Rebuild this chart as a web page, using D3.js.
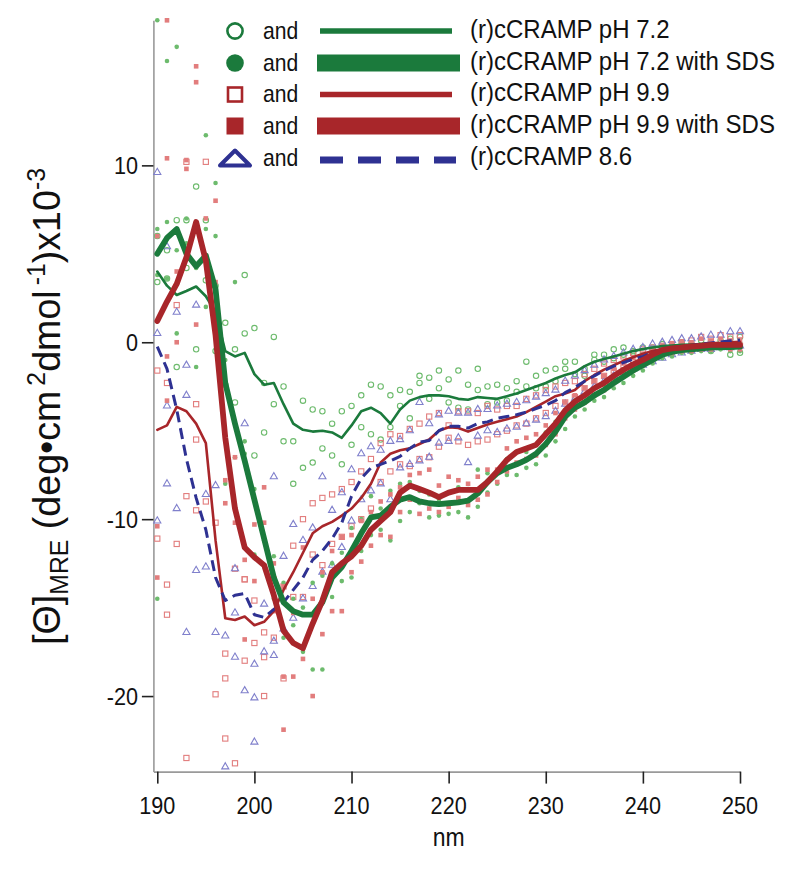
<!DOCTYPE html>
<html><head><meta charset="utf-8">
<script src="https://cdn.jsdelivr.net/npm/d3@7"></script>
<style>body{margin:0;background:#fff} svg{display:block}</style>
</head><body>
<svg id="c" width="800" height="878"></svg>
<script>
// ---------- DATA ----------
const wavelengths = [190,191,192,193,194,195,196,197,198,199,200,201,202,203,204,205,206,207,208,209,
210,211,212,213,214,215,216,217,218,219,220,221,222,223,224,225,226,227,228,229,
230,231,232,233,234,235,236,237,238,239,240,241,242,243,244,245,246,247,248,249,250];
const xTicks = [190,200,210,220,230,240,250];
const yTicks = [-20,-10,0,10];
const legendLabels = ["(r)cCRAMP pH 7.2","(r)cCRAMP pH 7.2 with SDS","(r)cCRAMP pH 9.9","(r)cCRAMP pH 9.9 with SDS","(r)cCRAMP 8.6"];

// averaged curves (x10^-3)
const line72 = [4.0,3.2,2.67,2.9,3.15,2.6,1.7,-0.5,-0.8,-0.6,
-1.8,-2.4,-2.3,-3.5,-4.6,-4.95,-5.05,-5.0,-5.1,-5.4,
-4.7,-3.9,-3.7,-4.0,-4.6,-3.8,-3.3,-3.1,-3.0,-3.0,
-3.05,-3.2,-3.25,-3.1,-3.15,-3.2,-3.05,-2.9,-2.7,-2.5,
-2.3,-2.05,-1.85,-1.7,-1.35,-1.1,-0.95,-0.8,-0.65,-0.5,
-0.38,-0.3,-0.22,-0.18,-0.15,-0.13,-0.1,-0.08,-0.06,-0.05,-0.05];
const line72sds = [5.0,5.9,6.4,5.0,4.3,4.9,3.0,-2.3,-4.6,-6.7,
-8.9,-11.1,-13.3,-14.7,-15.2,-15.4,-15.4,-14.7,-13.3,-12.7,
-11.8,-10.8,-9.9,-9.8,-9.3,-8.9,-8.75,-9.0,-9.1,-9.15,
-9.1,-9.05,-8.95,-8.55,-7.9,-7.4,-7.1,-6.9,-6.65,-6.3,
-5.75,-5.05,-4.2,-3.7,-3.4,-3.0,-2.7,-2.3,-1.95,-1.6,
-1.3,-1.0,-0.7,-0.55,-0.45,-0.4,-0.35,-0.3,-0.28,-0.27,-0.25];
const line99 = [-4.95,-4.7,-3.65,-3.9,-4.6,-5.7,-11.2,-15.6,-15.7,-15.5,
-16.0,-15.8,-15.2,-14.0,-13.0,-11.9,-10.8,-10.4,-10.15,-9.8,
-9.4,-8.8,-8.0,-6.8,-6.3,-6.1,-6.0,-5.75,-5.5,-5.0,
-4.8,-4.85,-5.05,-4.85,-4.65,-4.5,-4.35,-4.2,-3.95,-3.65,
-3.35,-3.05,-2.9,-2.7,-2.2,-1.85,-1.55,-1.3,-1.05,-0.85,
-0.65,-0.5,-0.38,-0.3,-0.22,-0.15,-0.1,-0.06,-0.03,0.0,0.03];
const line99sds = [1.2,2.3,3.3,4.8,6.8,4.6,0.4,-5.4,-9.4,-11.6,
-12.15,-12.6,-14.3,-16.3,-17.0,-17.3,-15.9,-14.6,-13.0,-12.5,
-12.1,-11.5,-10.6,-10.1,-9.6,-8.5,-8.1,-8.3,-8.5,-8.75,
-8.5,-8.35,-8.35,-8.35,-7.9,-7.3,-6.65,-6.2,-6.0,-5.8,
-5.2,-4.6,-3.85,-3.35,-3.0,-2.6,-2.3,-1.9,-1.55,-1.25,
-1.0,-0.7,-0.45,-0.35,-0.3,-0.25,-0.2,-0.15,-0.15,-0.15,-0.15];
const line86 = [-0.25,-1.5,-3.8,-6.6,-8.8,-10.6,-13.3,-14.6,-14.3,-14.2,
-15.4,-15.55,-15.1,-14.7,-14.0,-13.3,-12.3,-11.8,-11.1,-10.2,
-8.7,-7.7,-7.1,-6.9,-6.7,-6.45,-6.0,-5.65,-5.55,-5.0,
-4.75,-4.75,-4.85,-4.6,-4.5,-4.3,-4.2,-4.1,-3.95,-3.75,
-3.55,-3.3,-2.85,-2.55,-2.2,-1.9,-1.6,-1.35,-1.15,-0.95,
-0.8,-0.6,-0.45,-0.33,-0.25,-0.18,-0.1,-0.04,0.02,0.08,0.13];

// individual scans
const scan72a = [6.0,3.6,6.9,6.9,8.8,6.9,3.2,1.1,-0.4,3.8,
0.8,-2.3,0.3,-2.5,-5.6,-7.1,-3.8,-3.9,-4.6,-3.9,
-3.6,-3.0,-2.4,-2.5,-3.0,-2.7,-2.8,-1.9,-2.0,-1.6,
-2.1,-1.6,-2.4,-1.5,-2.5,-2.4,-2.6,-2.2,-1.1,-1.9,
-1.6,-1.5,-1.1,-1.1,-1.5,-0.7,-0.7,-0.4,-0.3,-0.5,
-0.3,-0.4,-0.1,-0.2,0.0,-0.1,0.1,-0.5,0.1,-0.7,-0.6];
const scan72b = [3.4,5.2,-1.4,4.2,-0.4,3.5,-0.5,-2.4,-3.4,0.5,
-6.4,-5.1,-3.5,-5.6,-8.0,-3.3,-6.8,-6.0,-6.4,-6.9,
-5.8,-4.8,-5.2,-5.5,-4.8,-3.6,-4.3,-2.3,-3.2,-2.6,
-3.4,-3.7,-3.8,-2.7,-3.5,-3.4,-3.3,-2.8,-2.5,-2.6,
-2.5,-2.2,-1.5,-1.8,-1.9,-1.0,-1.1,-0.9,-0.7,-0.6,
-0.5,-0.3,-0.4,-0.3,-0.3,-0.2,-0.3,0.0,-0.3,0.2,0.3];
const scan72sdsA = [6.4,3.6,5.2,5.6,4.2,6.4,6.0,-1.0,3.4,-5.6,
-8.3,-11.2,-12.1,-13.6,-14.5,-15.0,-13.6,-13.2,-14.4,-11.9,
-13.3,-10.0,-8.7,-9.4,-8.4,-10.1,-7.9,-9.1,-9.9,-8.9,
-9.7,-8.2,-9.9,-7.2,-8.5,-7.4,-7.5,-7.5,-6.2,-6.9,
-5.1,-5.6,-4.0,-3.3,-3.8,-2.6,-2.4,-2.0,-1.7,-1.3,
-1.0,-0.8,-0.5,-0.4,-0.3,-0.2,-0.2,-0.1,-0.1,0.0,0.0];
const scan72sdsB = [3.8,6.8,0.5,7.0,-1.4,2.0,3.2,-8.0,-6.5,-6.3,
-12.0,-12.6,-14.5,-16.7,-16.0,-17.5,-18.5,-18.5,-12.5,-13.5,
-10.5,-11.8,-10.9,-10.6,-11.2,-8.0,-9.6,-8.4,-8.6,-9.8,
-8.5,-9.6,-8.3,-9.3,-7.4,-8.0,-6.6,-6.2,-7.1,-5.8,
-6.4,-4.5,-4.9,-4.2,-3.0,-3.3,-3.1,-2.6,-2.3,-1.9,
-1.6,-1.2,-0.9,-0.8,-0.6,-0.6,-0.5,-0.5,-0.4,-0.5,-0.5];
const scan99a = [-1.6,-2.3,2.1,10.2,-3.5,10.2,-10.2,-17.6,-12.8,-13.4,
-14.6,-16.4,-13.4,-13.8,-11.5,-10.0,-9.1,-8.8,-8.6,-8.3,
-7.9,-7.3,-6.6,-5.7,-5.2,-5.3,-4.9,-4.6,-4.2,-4.0,
-4.7,-3.9,-3.9,-4.0,-3.6,-3.8,-3.6,-3.6,-3.2,-3.0,
-2.7,-2.5,-2.3,-2.2,-1.8,-1.5,-1.2,-1.0,-0.8,-0.6,
-0.4,-0.3,-0.2,-0.1,0.0,0.1,0.3,0.2,0.4,0.3,0.4];
const scan99b = [-11.1,-13.7,-11.4,-8.7,-9.5,-9.0,-19.9,-19.0,-23.8,-18.0,
-17.0,-17.8,-16.7,-19.0,-14.4,-14.4,-12.0,-12.6,-11.4,-11.0,
-10.4,-10.0,-9.4,-7.9,-7.3,-6.9,-7.0,-6.6,-6.5,-5.9,
-5.4,-5.6,-5.8,-5.6,-5.5,-5.2,-5.0,-4.7,-4.6,-4.3,
-4.0,-3.6,-3.4,-3.1,-2.6,-2.2,-1.9,-1.6,-1.3,-1.1,
-0.9,-0.7,-0.6,-0.5,-0.4,-0.4,-0.3,-0.3,-0.2,-0.2,-0.2];
const scan99sdsA = [6.0,10.4,4.0,9.8,1.0,7.0,8.0,-7.8,-10.2,-12.3,
-10.3,-8.2,-12.5,-18.9,-15.3,-17.9,-20.0,-13.0,-15.2,-15.2,
-13.0,-12.4,-11.5,-10.9,-11.0,-8.2,-7.5,-9.7,-7.2,-9.6,
-7.6,-8.8,-8.0,-7.6,-7.2,-7.2,-6.0,-5.6,-5.4,-5.2,
-4.7,-4.0,-3.4,-3.0,-2.6,-2.2,-1.9,-1.5,-1.2,-0.9,
-0.7,-0.4,-0.2,-0.1,0.0,0.0,0.2,0.1,0.2,0.1,0.1];
const scan99sdsB = [-10.4,-3.3,0.0,5.2,14.7,4.9,3.4,-9.1,-6.5,-16.8,
-13.5,-10.2,-15.2,-13.8,-18.9,-11.6,-14.5,-16.5,-11.8,-11.0,
-10.9,-10.1,-9.6,-9.0,-8.6,-9.6,-8.9,-7.4,-9.4,-8.1,
-9.3,-7.8,-9.2,-8.9,-8.6,-7.9,-7.3,-6.8,-6.6,-6.4,
-5.8,-5.2,-4.3,-3.8,-3.4,-3.0,-2.7,-2.3,-1.9,-1.6,
-1.3,-1.0,-0.7,-0.6,-0.5,-0.5,-0.4,-0.4,-0.3,-0.4,-0.4];
const scan86a = [9.6,5.4,1.7,-3.0,2.1,-12.7,-8.1,-16.6,-12.8,-4.6,
-18.2,-14.8,-7.6,-12.1,-10.3,-11.2,-10.5,-7.6,-9.5,-8.5,
-7.2,-6.3,-5.9,-6.1,-5.6,-7.1,-5.0,-3.4,-4.6,-5.7,
-3.9,-4.0,-6.8,-3.8,-5.0,-3.6,-3.5,-3.4,-3.3,-3.1,
-2.9,-2.7,-2.2,-1.9,-1.6,-1.3,-1.0,-0.8,-0.6,-0.4,
-0.3,-0.1,0.0,0.1,0.2,0.2,0.3,0.4,0.4,0.6,0.6];
const scan86b = [-10.1,-8.0,-9.4,-16.4,-12.9,-8.6,-16.4,-24.0,-17.8,-19.7,
-22.6,-17.5,-17.7,-16.2,-15.6,-14.5,-13.8,-13.0,-12.6,-11.6,
-10.1,-8.9,-8.4,-8.0,-8.9,-5.5,-6.9,-6.7,-6.5,-4.1,
-5.6,-5.4,-4.0,-5.3,-3.8,-5.1,-4.9,-4.8,-4.6,-4.4,
-4.2,-3.9,-3.5,-3.2,-2.8,-2.5,-2.2,-1.9,-1.7,-1.5,
-1.3,-1.1,-0.9,-0.7,-0.6,-0.5,-0.4,-0.4,-0.3,-0.3,-0.2];
// additional stray scan points [nm, value]
const extra72sds = [[190,18.2],[191,15.9],[192,16.7],[195,11.7],[190,-14.5],[196,9.0]];
const extra99 = [[193,-23.5],[197,-22.4],[201,-20.0],[191,-15.4],[199,-13.4],[194,-5.5]];
const extra99sds = [[191,18.2],[194,15.6],[190,-13.3],[203,-21.9],[193,10.3],[191,-0.8]];
const extra86 = [[200,-20.1],[193,-1.3],[190,0.5],[191,-3.6],[198,-15.3],[202,-16.9]];

// ---------- DRAW ----------
const svg = d3.select("#c");
const FONT = "'Liberation Sans', Arial, Helvetica, sans-serif";
const x = d3.scaleLinear().domain([189.6, 250]).range([153.4, 740]);
const y = d3.scaleLinear().domain([-24.27, 18.2]).range([771.6, 20.3]);

const C = {
  g: "#1b7a3c", r: "#a8262a", b: "#2e3192",
  gL: "#6dbb6d", rL: "#e27d7d", bL: "#8080cc"
};

function ctext(parent, tx, ty, str, size, sx, anchor) {
  return parent.append("g").attr("transform", `translate(${tx},${ty}) scale(${sx},1)`)
    .append("text").attr("font-family", FONT).attr("font-size", size)
    .attr("text-anchor", anchor || "start").attr("fill", "#111").text(str);
}

const zip = arr => wavelengths.map((w, i) => [w, arr[i]]);

// axes
const xAxis = svg.append("g").attr("transform", `translate(0,${y.range()[0]})`)
  .call(d3.axisBottom(x).tickValues(xTicks).tickSize(12).tickSizeOuter(0).tickFormat(""));
xAxis.select(".domain").attr("stroke", "#9a9a9a").attr("stroke-width", 1.6);
xAxis.selectAll(".tick line").attr("stroke", "#222").attr("stroke-width", 1.6);

const yAxis = svg.append("g").attr("transform", `translate(${x.range()[0]},0)`)
  .call(d3.axisLeft(y).tickValues(yTicks).tickSize(11.5).tickSizeOuter(0).tickFormat(""));
yAxis.select(".domain").attr("stroke", "#9a9a9a").attr("stroke-width", 1.6);
yAxis.selectAll(".tick line").attr("stroke", "#222").attr("stroke-width", 1.6);

xTicks.forEach(v => ctext(svg, x(v), 814, String(v), 24, 0.9, "middle"));
yTicks.forEach(v => ctext(svg, 138, y(v) + 9, String(v), 24, 0.9, "end"));
ctext(svg, x(220), 846, "nm", 25, 0.92, "middle");

// y label
{
  const g = svg.append("g");
  const t = g.append("text").attr("font-family", FONT).attr("font-size", 38)
    .attr("text-anchor", "middle").attr("fill", "#111");
  t.append("tspan").text("[Θ]");
  t.append("tspan").attr("font-size", 25).attr("dy", 8).text("MRE");
  t.append("tspan").attr("dy", -8).text(" (deg•cm");
  t.append("tspan").attr("font-size", 25).attr("dy", -15).attr("dx", 5).text("2");
  t.append("tspan").attr("dy", 15).text("dmol");
  t.append("tspan").attr("font-size", 25).attr("dy", -15).attr("dx", 5).text("-1");
  t.append("tspan").attr("dy", 15).text(")x10");
  t.append("tspan").attr("font-size", 25).attr("dy", -15).text("-3");
  const w = t.node().getBBox().width;
  const s = 477 / w;
  g.attr("transform", `translate(60,406.5) rotate(-90) scale(${s},1)`);
}

// scatter
const pts = svg.append("g");
function circles(data, filled) {
  pts.append("g").selectAll("circle").data(data.filter(d => d[1] != null)).join("circle")
    .attr("cx", d => x(d[0])).attr("cy", d => y(d[1]))
    .attr("r", filled ? 2.3 : 2.7)
    .attr("fill", filled ? C.gL : "none")
    .attr("stroke", filled ? "none" : C.gL).attr("stroke-width", 1.1);
}
function squares(data, filled) {
  const s = filled ? 4.6 : 5.2;
  pts.append("g").selectAll("rect").data(data).join("rect")
    .attr("x", d => x(d[0]) - s / 2).attr("y", d => y(d[1]) - s / 2)
    .attr("width", s).attr("height", s)
    .attr("fill", filled ? C.rL : "none")
    .attr("stroke", filled ? "none" : C.rL).attr("stroke-width", 1.1);
}
function triangles(data) {
  const tri = d3.symbol().type(d3.symbolTriangle).size(22);
  pts.append("g").selectAll("path").data(data).join("path")
    .attr("d", tri).attr("transform", d => `translate(${x(d[0])},${y(d[1])})`)
    .attr("fill", "none").attr("stroke", C.bL).attr("stroke-width", 1.1);
}
circles(zip(scan72a), false); circles(zip(scan72b), false);
squares(zip(scan99a), false); squares(zip(scan99b), false); squares(extra99, false);
triangles(zip(scan86a)); triangles(zip(scan86b)); triangles(extra86);
circles(zip(scan72sdsA), true); circles(zip(scan72sdsB), true); circles(extra72sds, true);
squares(zip(scan99sdsA), true); squares(zip(scan99sdsB), true); squares(extra99sds, true);

// lines
const lineGen = d3.line().x(d => x(d[0])).y(d => y(d[1]));
function drawLine(arr, color, w, dash) {
  svg.append("path").datum(zip(arr)).attr("d", lineGen)
    .attr("fill", "none").attr("stroke", color).attr("stroke-width", w)
    .attr("stroke-linejoin", "round").attr("stroke-linecap", dash ? "butt" : "round")
    .attr("stroke-dasharray", dash || null);
}
drawLine(line72, C.g, 2.6);
drawLine(line99, C.r, 2.6);
drawLine(line86, C.b, 3, "11,6");
drawLine(line72sds, C.g, 5.8);
drawLine(line99sds, C.r, 5.8);

// legend
const lg = svg.append("g");
const rowY = [31, 63, 94.5, 126, 158.5];
const textY = [37.5, 69.5, 101, 132.5, 164.5];
// symbols
lg.append("circle").attr("cx", 235).attr("cy", rowY[0]).attr("r", 7.6).attr("fill", "#fff").attr("stroke", C.g).attr("stroke-width", 2.6);
lg.append("circle").attr("cx", 235).attr("cy", rowY[1]).attr("r", 8.8).attr("fill", C.g);
lg.append("rect").attr("x", 228).attr("y", rowY[2] - 7).attr("width", 14).attr("height", 14).attr("fill", "#fff").attr("stroke", C.r).attr("stroke-width", 2.6);
lg.append("rect").attr("x", 226.5).attr("y", rowY[3] - 8.5).attr("width", 17).attr("height", 17).attr("fill", C.r);
lg.append("path").attr("d", `M${220},${rowY[4] + 7} L${235},${rowY[4] - 8} L${250},${rowY[4] + 7} Z`)
  .attr("fill", "none").attr("stroke", C.b).attr("stroke-width", 4).attr("stroke-linejoin", "round");
// lines
lg.append("line").attr("x1", 320).attr("x2", 452).attr("y1", rowY[0]).attr("y2", rowY[0]).attr("stroke", C.g).attr("stroke-width", 5.5);
lg.append("line").attr("x1", 317).attr("x2", 460).attr("y1", rowY[1]).attr("y2", rowY[1]).attr("stroke", C.g).attr("stroke-width", 17);
lg.append("line").attr("x1", 320).attr("x2", 452).attr("y1", rowY[2]).attr("y2", rowY[2]).attr("stroke", C.r).attr("stroke-width", 5.5);
lg.append("line").attr("x1", 317).attr("x2", 460).attr("y1", rowY[3]).attr("y2", rowY[3]).attr("stroke", C.r).attr("stroke-width", 17);
lg.append("line").attr("x1", 320).attr("x2", 456).attr("y1", rowY[4] + 1.5).attr("y2", rowY[4] + 1.5).attr("stroke", C.b).attr("stroke-width", 7).attr("stroke-dasharray", "23,15");
legendLabels.forEach((lab, i) => {
  ctext(lg, 263, textY[i] + 1, "and", 24, 0.88, "start");
  ctext(lg, 470, textY[i], lab, 25, 0.96, "start");
});
</script>
</body></html>
